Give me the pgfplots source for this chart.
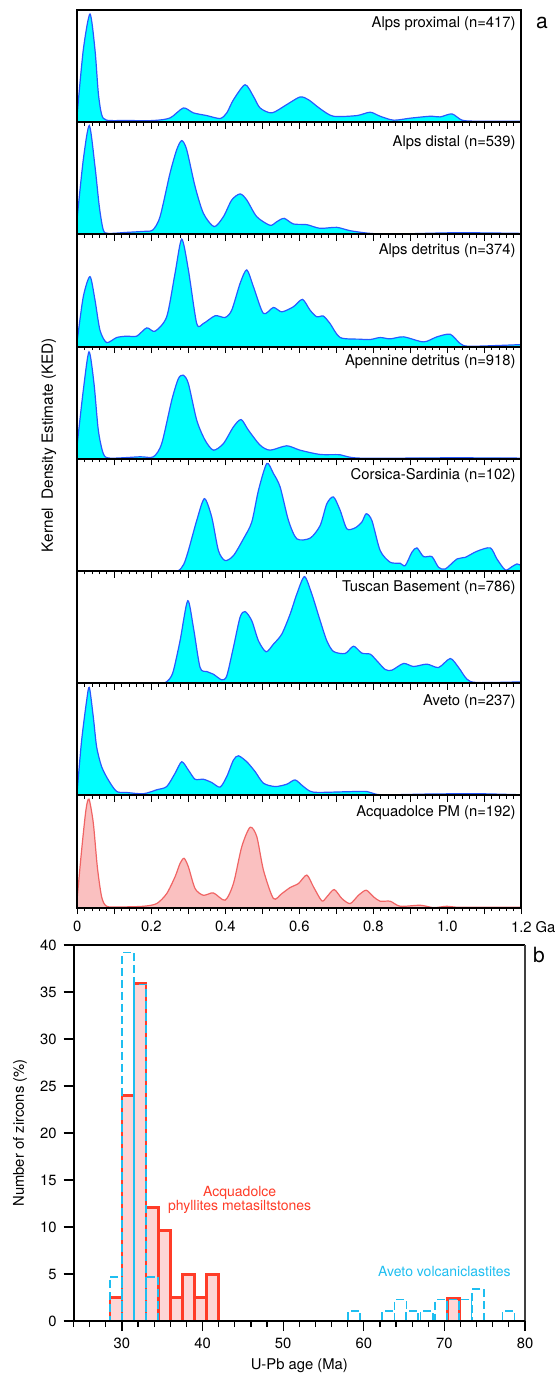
\documentclass[border=0pt]{standalone}
\usepackage{pgfplots}
\pgfplotsset{compat=1.18}
\usepackage{fontspec}
\setmainfont{TeX Gyre Heros}

\definecolor{kedfill}{RGB}{0,255,255}
\definecolor{kedline}{RGB}{40,90,255}
\definecolor{pmfill}{RGB}{250,192,192}
\definecolor{pmline}{RGB}{240,100,100}
\definecolor{histred}{RGB}{255,60,40}
\definecolor{histpink}{RGB}{253,214,214}
\definecolor{histblue}{RGB}{30,190,240}

\newcommand{\lblfont}{\fontsize{7.4}{8.5}\selectfont}

\tikzset{panellabel/.style={anchor=east, inner sep=0pt, font=\lblfont}}
\pgfplotsset{
  kedpanel/.style={
    anchor=north west, scale only axis, width=222pt, height=56.1pt,
    xmin=0, xmax=1.2, ymin=0, ymax=100,
    axis on top, axis line style={line width=1pt},
    ytick=\empty,
    xtick={0,0.1,0.2,0.3,0.4,0.5,0.6,0.7,0.8,0.9,1.0,1.1,1.2},
    minor x tick num=4,
    xtick pos=bottom, tick align=outside,
    major tick length=3.3pt, minor tick length=1.7pt,
    tick style={black, line width=0.5pt},
    xticklabels={},
  },
  kedcurve/.style={draw=kedline, fill=kedfill, line width=0.6pt, smooth, tension=0.45},
  pmcurve/.style={draw=pmline, fill=pmfill, line width=0.6pt, smooth, tension=0.45},
}

\begin{document}
\begin{tikzpicture}
\useasboundingbox (0,0) rectangle (278pt,-687pt);

% panel 8 (drawn first so that the ticks of the panel above stay visible)
\begin{axis}[kedpanel, at={(38.65pt,-397.7pt)},
  xticklabels={0,,0.2,,0.4,,0.6,,0.8,,1.0,,1.2\rlap{\ Ga}},
  xticklabel style={font=\lblfont}]
\addplot[pmcurve] coordinates {(0,9.6) (0.0117,51.3) (0.0234,87.2) (0.0316,96.7) (0.0433,75.2) (0.0541,36.4) (0.0658,9.6) (0.0793,1.2) (0.1154,0.6) (0.1785,1.2) (0.2146,3.6) (0.2416,12.5) (0.2642,27.5) (0.2777,39.4) (0.2885,43.9) (0.3002,36.4) (0.3183,17) (0.3408,11) (0.3679,13.1) (0.3994,6.6) (0.422,21.5) (0.4445,54.3) (0.467,71.6) (0.4851,63.3) (0.5031,33.4) (0.5301,8.1) (0.5527,12.5) (0.5752,17.9) (0.5978,21.5) (0.6203,29) (0.6383,18.5) (0.6609,6) (0.6744,9.6) (0.6942,16.1) (0.715,8.1) (0.7375,3.6) (0.76,11) (0.7808,15.5) (0.8006,9.6) (0.8186,5.7) (0.8457,5.7) (0.8727,1.2) (0.9268,2.1) (0.9629,0) (0.999,1.2) (1.035,0.3) (1.2,0.3)} \closedcycle;
\node[panellabel] at (rel axis cs:0.988,0.843) {Acquadolce PM (n=192)};
\end{axis}

% panel 7
\begin{axis}[kedpanel, at={(38.65pt,-341.6pt)}]
\addplot[kedcurve] coordinates {(0,5) (0.0117,49.1) (0.0252,84.4) (0.0325,96.2) (0.0433,69.7) (0.0523,43.2) (0.0658,25.6) (0.0838,13.8) (0.1064,3.5) (0.1334,2.6) (0.1785,1.5) (0.2146,5) (0.2416,7.9) (0.2642,19.7) (0.2822,30) (0.3002,22.6) (0.3183,14.4) (0.3408,14.4) (0.3633,11.5) (0.3859,7.4) (0.4039,16.8) (0.422,31.5) (0.4355,35.3) (0.458,30) (0.4806,21.2) (0.5031,10.9) (0.5347,7.9) (0.5662,10) (0.5887,13.8) (0.6113,7.9) (0.6383,2.9) (0.7195,3.2) (0.7826,3.5) (0.8186,0.6) (0.9449,1.2) (1.035,1.5) (1.0891,1.5) (1.2,0.6)} \closedcycle;
\node[panellabel] at (rel axis cs:0.988,0.836) {Aveto (n=237)};
\end{axis}

% panel 6
\begin{axis}[kedpanel, at={(38.65pt,-285.5pt)}]
\addplot[kedcurve] coordinates {(0,0) (0.1,0) (0.18,0) (0.22,0) (0.2371,0.4) (0.2497,4) (0.2597,11) (0.2777,37.8) (0.2984,73.5) (0.3138,49.7) (0.3318,14) (0.3499,10.4) (0.3679,8) (0.3904,3) (0.4039,6.5) (0.422,32.1) (0.44,58.9) (0.4535,63.9) (0.4715,55.7) (0.4896,37.8) (0.5103,28) (0.5301,34.8) (0.5527,43.8) (0.5752,61.6) (0.5933,79.5) (0.614,95) (0.6338,79.5) (0.6564,55.7) (0.6744,37.8) (0.6924,28.3) (0.724,26.5) (0.7465,33) (0.769,26.8) (0.7916,25.9) (0.8096,20) (0.8322,12.2) (0.8502,11.6) (0.8818,17.6) (0.9088,14.9) (0.9449,17) (0.9764,14) (1.008,22) (1.0306,14) (1.0531,3.6) (1.0801,0.6) (1.2,1.2)} \closedcycle;
\node[panellabel] at (rel axis cs:0.988,0.85) {Tuscan Basement (n=786)};
\end{axis}

% panel 5
\begin{axis}[kedpanel, at={(38.65pt,-229.4pt)}]
\addplot[kedcurve] coordinates {(0,0) (0.1,0) (0.2,0) (0.25,0) (0.2732,0.3) (0.2877,6) (0.3002,18.2) (0.3228,45.1) (0.3435,64.5) (0.3633,48.1) (0.3814,18.2) (0.3994,9.3) (0.422,13.7) (0.449,28.7) (0.4715,43.6) (0.4896,71.9) (0.5121,95.8) (0.5301,86.9) (0.5482,74.9) (0.5707,45.1) (0.5933,28.7) (0.6293,29.3) (0.6564,40.6) (0.6744,60) (0.6924,66) (0.7105,54) (0.7285,37.6) (0.751,38.5) (0.769,43.6) (0.7808,51) (0.7961,45.1) (0.8186,18.2) (0.8457,7.8) (0.8727,6.9) (0.8863,4.8) (0.9043,16.7) (0.9178,20.6) (0.9359,12.8) (0.9584,12.8) (0.9764,3.3) (0.9945,1.8) (1.026,10.7) (1.0486,12.2) (1.0801,17.6) (1.1162,20.6) (1.1342,10.7) (1.1568,0.9) (1.1748,3.9) (1.1883,6.3) (1.2,4.8)} \closedcycle;
\node[panellabel] at (rel axis cs:0.988,0.855) {Corsica-Sardinia (n=102)};
\end{axis}

% panel 4
\begin{axis}[kedpanel, at={(38.65pt,-173.3pt)}]
\addplot[kedcurve] coordinates {(0,13.6) (0.0162,61.1) (0.0316,95.3) (0.0451,67.1) (0.0568,25.5) (0.0703,4.7) (0.0884,0.6) (0.1695,1.8) (0.2056,1.8) (0.2281,13.6) (0.2552,52.2) (0.2732,71.5) (0.2867,74.5) (0.3002,67.1) (0.3228,34.4) (0.3453,16.6) (0.3679,7.7) (0.3949,13.6) (0.422,28.5) (0.4427,35) (0.4625,25.5) (0.494,12.2) (0.521,7.7) (0.566,11.6) (0.602,7.7) (0.656,3.9) (0.7105,3.6) (0.7645,0.6) (1.017,0.9) (1.2,0.6)} \closedcycle;
\node[panellabel] at (rel axis cs:0.988,0.863) {Apennine detritus (n=918)};
\end{axis}

% panel 3
\begin{axis}[kedpanel, at={(38.65pt,-117.2pt)}]
\addplot[kedcurve] coordinates {(0,5.7) (0.0162,44.5) (0.0343,62.4) (0.0478,41.5) (0.0613,14.6) (0.0793,3.6) (0.1064,8.1) (0.1334,9.3) (0.1605,9.3) (0.1875,16.7) (0.21,13.7) (0.2416,26.6) (0.2642,65.4) (0.2822,95.8) (0.3002,68.4) (0.3228,20.6) (0.3408,20.6) (0.3724,27.5) (0.3994,26) (0.4174,32.5) (0.44,56.4) (0.458,68.4) (0.476,53.4) (0.503,29.6) (0.53,34.9) (0.5527,31) (0.584,35.5) (0.6086,42.1) (0.629,32.5) (0.647,26.6) (0.665,27.2) (0.683,20.6) (0.7105,8.1) (0.7645,6.6) (0.7916,6.3) (0.8186,8.1) (0.8457,6.9) (0.8818,8.7) (0.9359,4.2) (0.972,8.7) (1.008,11) (1.035,2.7) (1.062,0.3) (1.2,1.8)} \closedcycle;
\node[panellabel] at (rel axis cs:0.988,0.857) {Alps detritus (n=374)};
\end{axis}

% panel 2
\begin{axis}[kedpanel, at={(38.65pt,-61.1pt)}]
\addplot[kedcurve] coordinates {(0,15.8) (0.0162,66.6) (0.0325,97) (0.0478,60.6) (0.0595,24.8) (0.0703,3.9) (0.0838,0.9) (0.1334,1.8) (0.1785,2.7) (0.2038,3.9) (0.2236,15.8) (0.2506,54.6) (0.2687,75.5) (0.2822,83.6) (0.2957,75.5) (0.3183,42.7) (0.3408,18.8) (0.3697,6.9) (0.3949,15.8) (0.4174,30.7) (0.44,36.1) (0.458,30.7) (0.485,15.8) (0.521,8.1) (0.539,11.3) (0.559,14.3) (0.584,9.3) (0.62,8.7) (0.656,5.4) (0.701,6.3) (0.7375,3.3) (0.7916,0.9) (0.855,0.3) (1.026,1.5) (1.2,0.9)} \closedcycle;
\node[panellabel] at (rel axis cs:0.988,0.82) {Alps distal (n=539)};
\end{axis}

% panel 1
\begin{axis}[kedpanel, at={(38.65pt,-5pt)}]
\addplot[kedcurve] coordinates {(0,8.3) (0.0162,64.5) (0.0343,96.4) (0.0478,64.5) (0.0568,26) (0.0658,6.8) (0.0793,1.8) (0.133,1.5) (0.2056,1.5) (0.2506,3.8) (0.2867,12.7) (0.3138,8.3) (0.35,5.9) (0.386,3.3) (0.404,8.3) (0.422,20) (0.4535,33.4) (0.476,23) (0.494,12.7) (0.526,8.3) (0.566,15.7) (0.602,22.5) (0.625,20) (0.656,12.1) (0.692,5.3) (0.7555,5.9) (0.7916,8.9) (0.8186,5.3) (0.855,1.8) (0.9,3.6) (0.954,5.3) (0.981,4.7) (1.0125,7.4) (1.04,1.8) (1.08,0.9) (1.2,0.9)} \closedcycle;
\node[panellabel] at (rel axis cs:0.988,0.88) {Alps proximal (n=417)};
\end{axis}

\node[rotate=90, font=\fontsize{7.7}{9}\selectfont] at (24.5pt,-222.5pt) {Kernel\ \ Density Estimate (KED)};
\node[font=\fontsize{10.5}{12}\selectfont] at (271pt,-11.5pt) {a};

% panel b: histogram
\begin{axis}[
  at={(36.8pt,-472.5pt)}, anchor=north west, scale only axis,
  width=225.7pt, height=188pt,
  xmin=24, xmax=80, ymin=0, ymax=40,
  clip=false, axis on top,
  axis x line*=bottom, axis y line*=left,
  axis line style={line width=1pt, -},
  xtick={30,40,...,80}, minor xtick={24,26,...,80},
  ytick={0,5,...,40},
  tick align=outside,
  major tick length=5pt, minor tick length=3pt,
  tick style={black, line width=0.6pt},
  ticklabel style={font=\lblfont},
  /pgf/number format/assume math mode=true,
  xlabel={U-Pb age (Ma)}, ylabel={Number of zircons (\%)},
  xlabel style={font=\lblfont, at={(axis description cs:0.5,-0.1197)}, anchor=center},
  ylabel style={font=\lblfont, at={(axis description cs:-0.1187,0.5)}, anchor=center},
]
\addplot[ybar, bar width=1.5, bar shift=0pt, draw=histred, line width=1.3pt, fill=histpink]
  coordinates {(29.25,2.5) (30.75,24) (32.25,35.9) (33.75,12.1) (35.25,9.65) (36.75,2.5) (38.25,4.95) (39.75,2.5) (41.25,4.95) (71.15,2.4)};
\addplot[ybar, bar width=1.5, bar shift=0pt, draw=histblue, line width=0.85pt, dash pattern=on 4pt off 2pt, fill=none]
  coordinates {(29.25,4.7) (30.75,39.2) (32.25,35.8) (33.75,4.7) (58.8,1.1) (63.05,1.1) (64.55,2.3) (66.0,1.1) (67.8,1.1) (69.55,2.3) (71.05,2.3) (72.6,2.3) (74.2,3.4) (77.95,1.1)};
\draw[line width=1pt] (rel axis cs:0,1) -- (rel axis cs:1,1);
\draw[line width=0.7pt, black!75] (rel axis cs:1,1) -- (rel axis cs:1,0);
\node[text=histred, align=center, font=\fontsize{7}{6.8}\selectfont] at (axis cs:44.6,12.9) {Acquadolce\\phyllites metasiltstones};
\node[text=histblue, font=\fontsize{7}{8}\selectfont] at (axis cs:70,5.3) {Aveto volcaniclastites};
\end{axis}

\node[font=\fontsize{10.5}{12}\selectfont] at (269.5pt,-477.5pt) {b};
\end{tikzpicture}
\end{document}
